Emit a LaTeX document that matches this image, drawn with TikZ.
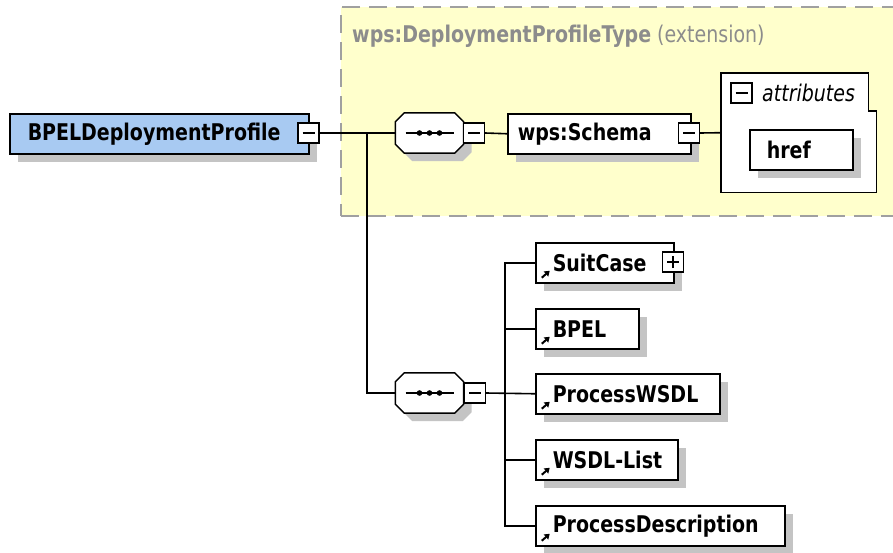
\documentclass[tikz,border=0pt]{standalone}
\usepackage{fontspec}
\setmainfont{DejaVu Sans}[FakeStretch=0.826]
\usetikzlibrary{shadows,arrows.meta}
\definecolor{shade}{HTML}{C4C4C4}
\definecolor{ylw}{HTML}{FFFFCC}
\definecolor{blu}{HTML}{A8CAF2}
\definecolor{dashgrey}{HTML}{A0A0A0}
\definecolor{titlegrey}{HTML}{8C8C8C}
\tikzset{
  conn/.style={line width=1.6pt},
  shad/.style={drop shadow={shadow xshift=8pt, shadow yshift=-8pt, fill=shade, opacity=1}},
  txt/.style={font=\fontsize{23}{26}\selectfont\bfseries},
  elem/.style n args={2}{draw, line width=1.5pt, fill=white, shad, minimum height=40pt,
    minimum width=#1pt, inner xsep=0pt, anchor=north west,
    execute at begin node={\hbox to #2pt\bgroup}, execute at end node={\hss\egroup}, txt},
  refelem/.style n args={2}{elem={#1}{#2},
    path picture={\draw[black, line width=2pt, -{Triangle[length=5pt,width=6.5pt]}]
      ([xshift=6pt,yshift=5pt]path picture bounding box.south west) -- ++(8pt,7pt);}},
  btnbase/.style={draw, line width=1.3pt, fill=white, minimum width=21pt, minimum height=20pt, inner sep=0pt},
  btn/.style={btnbase,
    path picture={\draw[black, line width=1.3pt] ([xshift=-6pt]path picture bounding box.center) -- ([xshift=6pt]path picture bounding box.center);}},
  plusbtn/.style={btnbase,
    path picture={\draw[black, line width=1.3pt] ([xshift=-6pt]path picture bounding box.center) -- ([xshift=6pt]path picture bounding box.center);
      \draw[black, line width=1.3pt] ([yshift=-6pt]path picture bounding box.center) -- ([yshift=6pt]path picture bounding box.center);}},
  seqbox/.style={minimum width=68pt, minimum height=40pt, inner sep=0pt},
  seqline/.style={draw, line width=1.5pt, fill=white, shad},
}
\newcommand\seqglyph[1]{%
  \draw[seqline] ([xshift=9pt]#1.north west) -- ([xshift=-9pt]#1.north east)
    -- ([yshift=-9pt]#1.north east) -- ([yshift=9pt]#1.south east)
    -- ([xshift=-9pt]#1.south east) -- ([xshift=9pt]#1.south west)
    -- ([yshift=9pt]#1.south west) -- ([yshift=-9pt]#1.north west) -- cycle;
  \draw[line width=1.5pt] ([xshift=-24pt]#1.center) -- ([xshift=24pt]#1.center);
  \foreach \dx in {-10,0,10}{\fill[black] ([xshift=\dx pt]#1.center) circle (2.8pt);}
}
\begin{document}
\begin{tikzpicture}[x=1pt,y=-1pt]
\useasboundingbox[fill=white] (0,0) rectangle (893,552);
% extension container
\node[draw=dashgrey, line width=2pt, dash pattern=on 18pt off 9pt, fill=ylw,
  minimum width=580pt, minimum height=209pt, anchor=north west, inner sep=0pt] (ext) at (340,6) {};
\node[anchor=west, text=titlegrey, inner sep=0pt, font=\fontsize{23}{26}\selectfont] (title) at (352,36)
  {\textbf{wps:DeploymentProfileType} (extension)};

% main element
\node[elem={299}{263}, fill=blu] (main) at (9,113) {BPELDeploymentProfile};
\node[btn] (mainbtn) at (308.5,133) {};

% sequences
\node[seqbox] (seq1) at (429.5,133) {};
\seqglyph{seq1}
\node[btn] (seq1btn) at (474,133) {};
\node[seqbox] (seq2) at (429.5,393) {};
\seqglyph{seq2}
\node[btn] (seq2btn) at (475,393) {};

% schema
\node[elem={183}{163}] (schema) at (507,113) {wps:Schema};
\node[btn] (schemabtn) at (689,133) {};

% attributes
\node[minimum width=155pt, minimum height=119pt, anchor=north west, inner sep=0pt] (attrs) at (721,73) {};
\draw[line width=1.5pt, fill=white] (attrs.north west) -- ([xshift=-8pt]attrs.north east)
  -- ([xshift=-8pt,yshift=-38pt]attrs.north east) -- ([yshift=-38pt]attrs.north east)
  -- (attrs.south east) -- (attrs.south west) -- cycle;
\node[btn, line width=1.1pt] (attrbtn) at (741.5,93) {};
\node[anchor=west, inner sep=0pt, font=\fontsize{23}{26}\selectfont\itshape] (attrlbl) at (762,93) {attributes};
\node[elem={103}{69}] (href) at (749,129) {href};

% children
\node[refelem={138}{104}] (suit) at (535,242) {SuitCase};
\node[plusbtn] (suitbtn) at (673,262) {};
\node[refelem={103}{69}] (bpel) at (535,308) {BPEL};
\node[refelem={184}{150}] (pwsdl) at (535,373) {ProcessWSDL};
\node[refelem={142}{108}] (wlist) at (535,439) {WSDL-List};
\node[refelem={249}{215}] (pdesc) at (535,505) {ProcessDescription};

% connectors
\coordinate (j1) at (367,133);
\coordinate (j2) at (505,393);
\draw[conn] (mainbtn.east) -- (seq1.west);
\draw[conn] (j1) |- (seq2.west);
\draw[conn] (seq1btn.east) -- (schema.west);
\draw[conn] (schemabtn.east) -- (attrs.west);
\draw[conn] (seq2btn.east) -- (pwsdl.west);
\draw[conn] (j2) |- (suit.west);
\draw[conn] (j2) |- (bpel.west);
\draw[conn] (j2) |- (wlist.west);
\draw[conn] (j2) |- (pdesc.west);
\end{tikzpicture}
\end{document}
